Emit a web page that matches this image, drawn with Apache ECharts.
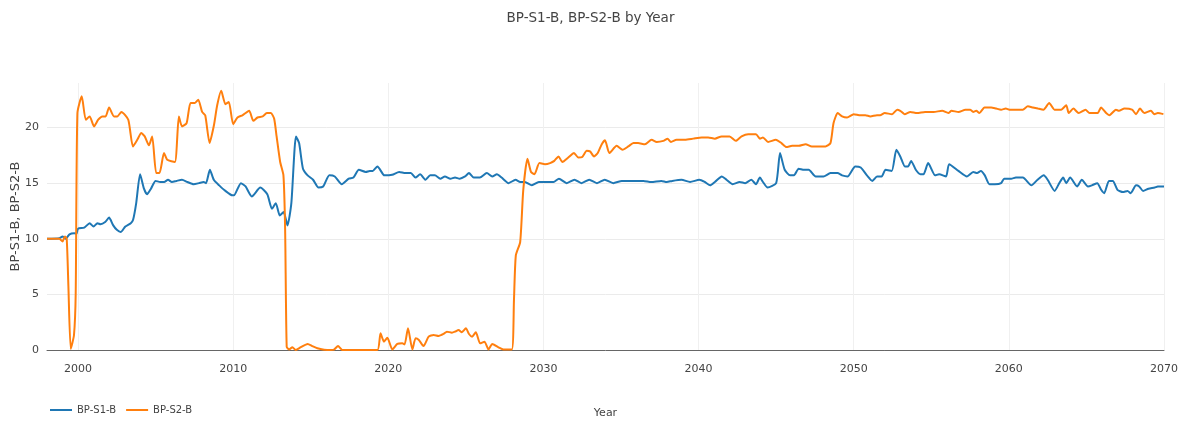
<!DOCTYPE html>
<html>
<head>
<meta charset="utf-8">
<script src="https://cdn.jsdelivr.net/npm/echarts@6/dist/echarts.min.js"></script>
<style>html,body{margin:0;padding:0;background:#fff;}#c{width:1181px;height:425px;}</style>
</head>
<body>
<div id="c"></div>
<script>
const seriesNames = ['BP-S1-B', 'BP-S2-B'];
const xTickLabels = ['2000', '2010', '2020', '2030', '2040', '2050', '2060', '2070'];
const yTickLabels = ['0', '5', '10', '15', '20'];

const s1Years = [1998.0,1998.8,1999.0,1999.2,1999.45,1999.75,1999.9,2000.0,2000.4,2000.75,2001.0,2001.25,2001.45,2001.75,2002.0,2002.27,2002.5,2002.75,2003.05,2003.4,2003.55,2003.75,2004.0,2004.25,2004.45,2004.7,2005.0,2005.3,2005.55,2005.8,2006.05,2006.35,2006.7,2007.05,2007.45,2007.8,2008.1,2008.25,2008.5,2008.75,2009.1,2009.5,2009.95,2010.05,2010.5,2010.8,2011.2,2011.75,2012.2,2012.5,2012.75,2013.0,2013.25,2013.5,2013.75,2014.05,2014.25,2014.5,2014.8,2015.15,2015.5,2015.8,2016.2,2016.55,2017.0,2017.45,2017.75,2018.1,2018.55,2018.8,2019.0,2019.3,2019.75,2020.25,2020.7,2021.1,2021.45,2021.75,2022.05,2022.4,2022.7,2023.0,2023.35,2023.65,2024.0,2024.3,2024.6,2024.95,2025.2,2025.5,2025.9,2026.35,2026.7,2027.0,2027.3,2027.75,2028.2,2028.5,2028.8,2029.25,2029.7,2030.1,2030.65,2031.0,2031.5,2032.0,2032.45,2032.95,2033.45,2033.95,2034.5,2035.05,2035.6,2036.45,2036.95,2037.6,2037.95,2038.3,2038.9,2039.45,2040.05,2040.4,2040.75,2041.05,2041.5,2041.8,2042.2,2042.65,2043.0,2043.4,2043.7,2043.95,2044.15,2044.45,2045.0,2045.25,2045.55,2045.9,2046.15,2046.45,2046.8,2047.1,2047.55,2048.05,2048.5,2048.95,2049.25,2049.6,2050.1,2050.45,2050.85,2051.2,2051.5,2051.8,2052.05,2052.45,2052.75,2053.0,2053.3,2053.5,2053.7,2054.0,2054.3,2054.5,2054.8,2055.25,2055.5,2055.95,2056.15,2056.75,2057.3,2057.7,2057.95,2058.2,2058.45,2058.75,2059.1,2059.5,2059.7,2060.15,2060.45,2060.9,2061.45,2061.85,2062.25,2062.5,2062.95,2063.25,2063.5,2063.7,2063.95,2064.4,2064.7,2065.1,2065.35,2065.7,2065.95,2066.15,2066.45,2066.7,2067.0,2067.35,2067.65,2067.85,2068.2,2068.4,2068.65,2069.0,2069.4,2069.6,2070.0];
const s1Values = [10.0,10.05,10.2,10.0,10.4,10.5,10.45,10.9,11.0,11.4,11.1,11.4,11.3,11.5,11.9,11.2,10.8,10.6,11.1,11.4,11.7,13.2,15.8,14.5,14.0,14.5,15.2,15.1,15.1,15.3,15.1,15.2,15.3,15.1,14.9,15.0,15.1,15.0,16.2,15.3,14.8,14.3,13.9,13.9,15.0,14.7,13.8,14.6,14.0,12.7,13.2,12.1,12.4,11.2,13.2,19.2,18.6,16.3,15.7,15.3,14.6,14.7,15.7,15.6,14.9,15.4,15.5,16.2,16.0,16.1,16.1,16.5,15.7,15.75,16.0,15.9,15.9,15.5,15.8,15.3,15.7,15.7,15.4,15.6,15.4,15.5,15.4,15.6,15.9,15.5,15.5,15.9,15.6,15.8,15.5,15.0,15.3,15.1,15.1,14.8,15.1,15.1,15.1,15.4,15.0,15.3,15.0,15.3,15.0,15.3,15.0,15.2,15.2,15.2,15.1,15.2,15.1,15.2,15.3,15.1,15.3,15.1,14.8,15.1,15.6,15.3,14.9,15.1,15.0,15.3,14.9,15.5,15.1,14.6,15.0,17.7,16.2,15.7,15.7,16.3,16.2,16.2,15.6,15.6,15.9,15.9,15.7,15.6,16.5,16.4,15.7,15.2,15.6,15.6,16.2,16.1,18.0,17.4,16.5,16.5,17.0,16.2,15.8,15.8,16.8,15.7,15.8,15.6,16.7,16.1,15.6,16.0,15.9,16.1,15.7,14.9,14.9,15.0,15.4,15.4,15.5,15.5,14.8,15.3,15.7,15.3,14.3,15.0,15.5,15.0,15.5,14.7,15.3,14.7,14.8,15.0,14.4,14.1,15.2,15.2,14.4,14.2,14.3,14.1,14.8,14.7,14.3,14.5,14.6,14.7,14.7];

const s2Years = [1998.0,1998.8,1999.0,1999.15,1999.27,1999.38,1999.53,1999.74,1999.85,1999.96,2000.24,2000.5,2000.75,2001.03,2001.3,2001.57,2001.78,2002.0,2002.32,2002.53,2002.8,2003.24,2003.54,2003.82,2004.08,2004.3,2004.57,2004.78,2005.04,2005.25,2005.54,2005.75,2006.24,2006.5,2006.7,2007.0,2007.25,2007.53,2007.75,2008.0,2008.2,2008.48,2008.76,2008.97,2009.23,2009.5,2009.72,2010.0,2010.28,2010.6,2011.03,2011.3,2011.57,2011.9,2012.17,2012.43,2012.64,2012.8,2013.03,2013.24,2013.35,2013.45,2013.6,2013.82,2014.03,2014.36,2014.8,2015.1,2015.43,2015.86,2016.3,2016.5,2016.76,2017.04,2017.6,2018.43,2019.3,2019.5,2019.72,2019.94,2020.26,2020.58,2020.9,2021.05,2021.27,2021.55,2021.76,2021.97,2022.27,2022.6,2022.92,2023.24,2023.56,2023.78,2024.1,2024.3,2024.53,2024.74,2025.0,2025.2,2025.4,2025.64,2025.92,2026.2,2026.46,2026.7,2027.1,2027.42,2027.96,2028.1,2028.22,2028.5,2028.7,2028.97,2029.2,2029.42,2029.74,2030.1,2030.43,2030.7,2030.97,2031.22,2031.6,2031.97,2032.25,2032.5,2032.79,2033.0,2033.26,2033.5,2033.76,2033.97,2034.25,2034.72,2035.1,2035.47,2035.8,2036.1,2036.54,2036.97,2037.3,2037.73,2038.0,2038.22,2038.58,2039.12,2039.66,2040.2,2040.62,2041.05,2041.48,2042.0,2042.4,2042.77,2043.2,2043.7,2043.95,2044.15,2044.48,2044.98,2045.34,2045.66,2046.03,2046.46,2046.9,2047.3,2047.75,2048.18,2048.5,2048.7,2048.97,2049.25,2049.57,2050.0,2050.43,2050.75,2051.07,2051.5,2051.7,2052.0,2052.47,2052.8,2053.0,2053.28,2053.65,2054.08,2054.6,2055.15,2055.7,2056.1,2056.3,2056.76,2057.2,2057.5,2057.7,2057.9,2058.1,2058.43,2058.86,2059.18,2059.5,2059.8,2060.04,2060.47,2060.9,2061.22,2061.55,2061.87,2062.23,2062.6,2062.94,2063.37,2063.7,2063.86,2064.16,2064.5,2064.94,2065.2,2065.73,2065.94,2066.27,2066.48,2066.9,2067.1,2067.45,2067.94,2068.2,2068.45,2068.73,2069.16,2069.38,2069.6,2069.96];
const s2Values = [10.0,10.0,9.75,10.2,10.0,5.7,0.1,1.35,5.1,21.3,22.8,20.7,21.0,20.1,20.7,21.0,21.0,21.8,21.0,21.0,21.4,20.7,18.3,18.9,19.5,19.2,18.4,19.2,15.9,15.9,17.7,17.1,16.9,21.0,20.1,20.4,22.2,22.2,22.5,21.4,21.1,18.6,20.2,22.0,23.3,22.1,22.3,20.3,20.9,21.1,21.5,20.6,20.9,21.0,21.3,21.3,20.8,19.2,16.9,15.7,10.8,0.3,0.05,0.25,0,0.25,0.55,0.35,0.15,0.03,0,0.03,0.36,0,0,0,0,1.5,0.75,1.1,0.05,0.55,0.6,0.5,1.95,0.05,1.05,0.9,0.36,1.2,1.35,1.26,1.44,1.65,1.56,1.65,1.8,1.6,1.95,1.44,1.2,1.6,0.6,0.75,0.05,0.54,0.24,0.05,0.05,4.5,8.5,9.7,14.4,17.2,16.0,15.8,16.8,16.7,16.8,17.0,17.4,16.9,17.3,17.7,17.3,17.35,17.9,17.85,17.4,17.7,18.5,18.85,17.7,18.35,18.0,18.3,18.6,18.6,18.5,18.9,18.7,18.8,19.0,18.7,18.9,18.9,19.0,19.1,19.1,19.0,19.2,19.2,18.8,19.2,19.4,19.4,19.0,19.1,18.7,18.9,18.6,18.25,18.35,18.35,18.5,18.3,18.3,18.3,18.6,20.4,21.3,21.0,20.9,21.2,21.1,21.1,21.0,21.1,21.1,21.3,21.2,21.6,21.5,21.2,21.4,21.3,21.4,21.4,21.5,21.3,21.5,21.4,21.6,21.6,21.4,21.5,21.3,21.8,21.8,21.7,21.6,21.7,21.6,21.6,21.6,21.9,21.8,21.7,21.6,22.2,21.6,21.6,22.0,21.3,21.7,21.3,21.6,21.3,21.3,21.8,21.3,21.1,21.6,21.5,21.7,21.6,21.2,21.7,21.3,21.5,21.2,21.3,21.2];

const zip = (xs, ys) => xs.map((x, i) => [x, ys[i]]);
const FONT = 'DejaVu Sans';
const chart = echarts.init(document.getElementById('c'), null, {renderer: 'canvas'});
chart.setOption({
  animation: false,
  backgroundColor: '#fff',
  title: {
    text: 'BP-S1-B, BP-S2-B by Year',
    left: 'center', top: 6,
    textStyle: {fontFamily: FONT, fontSize: 13.5, fontWeight: 'normal', color: '#444'}
  },
  legend: {
    left: 45, top: 400,
    icon: 'rect',
    itemWidth: 22, itemHeight: 2, itemGap: 10,
    textStyle: {fontFamily: FONT, fontSize: 10, color: '#444'},
    data: seriesNames
  },
  grid: {left: 47, right: 17, top: 83, bottom: 75, containLabel: false, outerBoundsMode: 'none'},
  xAxis: {
    type: 'value', min: 1998, max: 2070, splitNumber: 7,
    name: 'Year', nameLocation: 'middle', nameGap: 58, nameMoveOverlap: false,
    nameTextStyle: {fontFamily: FONT, fontSize: 11, color: '#444'},
    axisLine: {show: true, lineStyle: {color: '#666', width: 1}},
    axisTick: {show: false},
    axisLabel: {
      fontFamily: FONT, fontSize: 11, color: '#444', margin: 14,
      showMinLabel: false,
      formatter: v => xTickLabels.includes(String(v)) ? String(v) : ''
    },
    splitLine: {show: true, showMinLine: false, lineStyle: {color: '#f0f0f0', width: 1}}
  },
  yAxis: {
    type: 'value', min: 0, max: 24, interval: 5,
    name: 'BP-S1-B, BP-S2-B', nameLocation: 'middle', nameGap: 25, nameMoveOverlap: false,
    nameTextStyle: {fontFamily: FONT, fontSize: 13, color: '#444'},
    axisLine: {show: false}, axisTick: {show: false},
    axisLabel: {
      fontFamily: FONT, fontSize: 11, color: '#444', margin: 8,
      showMaxLabel: false,
      formatter: v => yTickLabels.includes(String(v)) ? String(v) : ''
    },
    splitLine: {show: true, showMaxLine: false, lineStyle: {color: '#ebebeb', width: 1}}
  },
  series: [
    {name: seriesNames[0], type: 'line', data: zip(s1Years, s1Values), symbol: 'none', smooth: 0.2,
     lineStyle: {color: '#1f77b4', width: 2}, itemStyle: {color: '#1f77b4'}},
    {name: seriesNames[1], type: 'line', data: zip(s2Years, s2Values), symbol: 'none', smooth: 0.2,
     lineStyle: {color: '#ff7f0e', width: 2}, itemStyle: {color: '#ff7f0e'}}
  ]
});
</script>
</body>
</html>
